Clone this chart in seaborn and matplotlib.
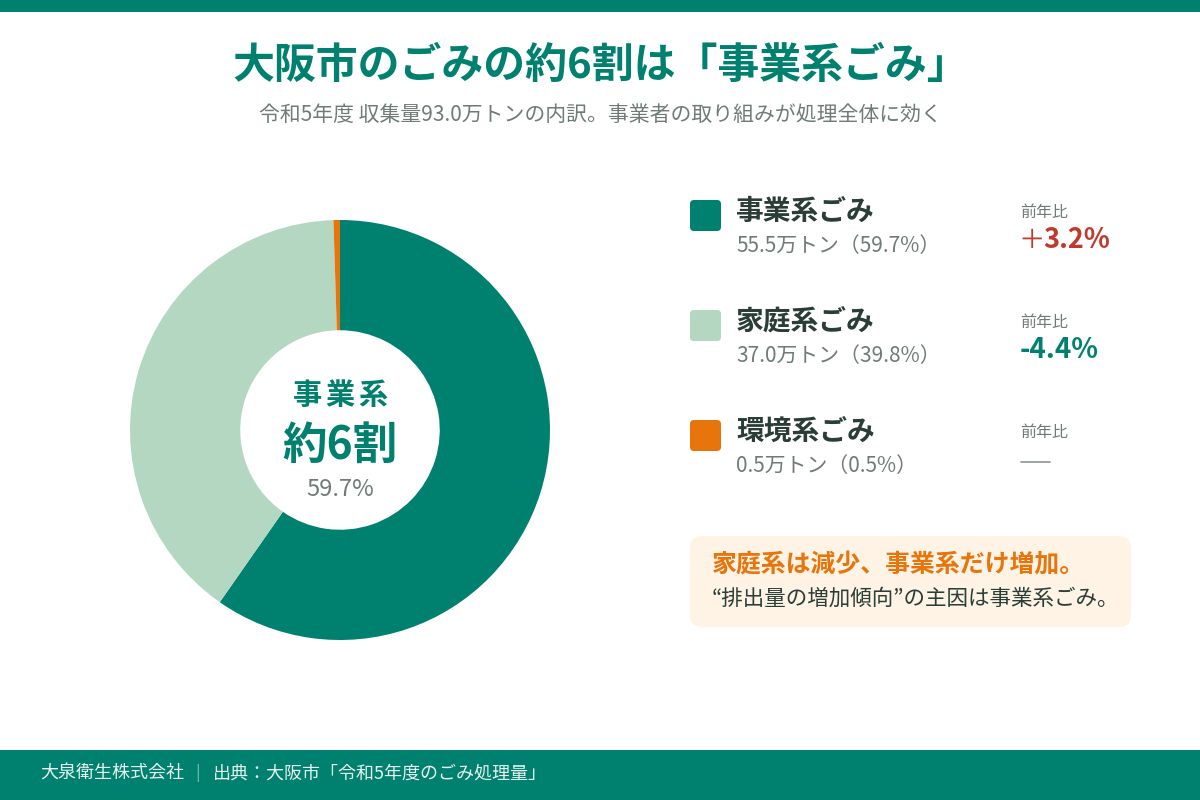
import matplotlib
matplotlib.use("Agg")
import matplotlib.pyplot as plt
from matplotlib.patches import FancyBboxPatch, Rectangle
import seaborn as sns

# ---- data ----
categories = ["事業系ごみ", "家庭系ごみ", "環境系ごみ"]
amounts = [55.5, 37.0, 0.5]          # 万トン
shares = [59.7, 39.8, 0.5]           # %
yoy_labels = ["+3.2%", "-4.4%", "—"]
colors = ["#00806E", "#B3D7C1", "#E8740C"]
yoy_colors = ["#C0392B", "#00806E", "#8A9590"]

center_label = "事業系"
center_big = "約6割"
title = "大阪市のごみの約6割は「事業系ごみ」"
subtitle = "令和5年度 収集量93.0万トンの内訳。事業者の取り組みが処理全体に効く"
callout1 = "家庭系は減少、事業系だけ増加。"
callout2 = "“排出量の増加傾向”の主因は事業系ごみ。"
footer_left = "大泉衛生株式会社"
footer_right = "出典：大阪市「令和5年度のごみ処理量」"

sns.set_theme(style="white")
plt.rcParams['font.family'] = ['Noto Sans CJK JP', 'DejaVu Sans']

TEAL = "#00806E"
DARK = "#2A3D36"
GREY = "#6E7B76"

fig = plt.figure(figsize=(12, 8), dpi=100)
fig.patch.set_facecolor("white")

# background overlay axes in pixel coordinates
bg = fig.add_axes([0, 0, 1, 1])
bg.set_xlim(0, 1200)
bg.set_ylim(800, 0)
bg.axis("off")

bg.add_patch(Rectangle((0, 0), 1200, 12, color=TEAL, lw=0))
bg.add_patch(Rectangle((0, 750), 1200, 50, color=TEAL, lw=0))

bg.text(232, 66, title, ha="left", va="center", fontsize=30.2,
        fontweight="bold", color=TEAL)
bg.text(600, 115, subtitle, ha="center", va="center", fontsize=15, color=GREY)

# legend rows
row_y = [215.5, 325.5, 435.5]
for i, cat in enumerate(categories):
    y = row_y[i]
    bg.add_patch(FancyBboxPatch((690, y - 15.5), 31, 31,
                                boxstyle="round,pad=0,rounding_size=4",
                                fc=colors[i], ec="none"))
    bg.text(736, y - 4, cat, ha="left", va="center", fontsize=20,
            fontweight="bold", color=DARK)
    bg.text(736, y + 31, f"{amounts[i]:.1f}万トン（{shares[i]:.1f}%）",
            ha="left", va="center", fontsize=15, color=GREY)
    bg.text(1020, y - 3, "前年比", ha="left", va="center", fontsize=11.5, color=GREY)
    lab = yoy_labels[i]
    if lab == "—":
        bg.plot([1021, 1050], [y + 26.5, y + 26.5], color=yoy_colors[i], lw=1.2)
    elif lab.startswith("+"):
        bg.text(1018, y + 25, "＋", ha="left", va="center", fontsize=19,
                fontweight="normal", color=yoy_colors[i])
        bg.text(1043, y + 25, lab[1:], ha="left", va="center", fontsize=19.5,
                fontweight="bold", color=yoy_colors[i])
    else:
        bg.text(1020, y + 25, lab, ha="left", va="center", fontsize=20,
                fontweight="bold", color=yoy_colors[i])

# callout
bg.add_patch(FancyBboxPatch((690, 536), 441, 91,
                            boxstyle="round,pad=0,rounding_size=12",
                            fc="#FEF3E5", ec="none"))
bg.text(712, 565, callout1, ha="left", va="center", fontsize=17.9,
        fontweight="bold", color="#E8740C")
bg.text(712, 599, callout2, ha="left", va="center", fontsize=15.5, color=DARK)

# footer
bg.text(40, 774, footer_left, ha="left", va="center", fontsize=13, color="#E6F2EF")
bg.text(198, 773, "|", ha="center", va="center", fontsize=12, color="#7FBDB3")
bg.text(213, 774, footer_right, ha="left", va="center", fontsize=13, color="#E6F2EF")

# donut
ax = fig.add_axes([130 / 1200, 1 - 640 / 800, 420 / 1200, 420 / 800])
ax.pie(shares, colors=colors, startangle=90, counterclock=False,
       wedgeprops=dict(width=0.525, linewidth=0))
ax.set_xlim(-1, 1)
ax.set_ylim(-1, 1)
ax.set_aspect("equal")
ax.axis("off")

# letter-spaced small label
pitch = 32.5
n = len(center_label)
for k, ch in enumerate(center_label):
    dx = (k - (n - 1) / 2) * pitch
    ax.text(dx / 210, (430 - 395) / 210, ch, ha="center", va="center",
            fontsize=21, fontweight="bold", color=TEAL)
ax.text(0, (430 - 446) / 210, center_big, ha="center", va="center",
        fontsize=32, fontweight="bold", color=TEAL)
ax.text(0, (430 - 489) / 210, f"{shares[0]:.1f}%", ha="center", va="center",
        fontsize=17, color=GREY)

fig.savefig("out.png", dpi=100, facecolor="white")
